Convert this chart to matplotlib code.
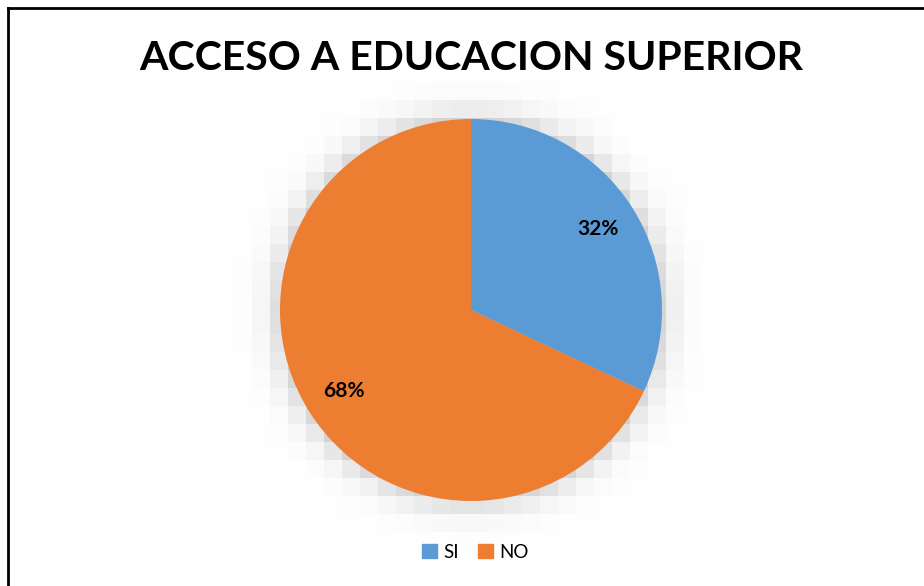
import numpy as np
import matplotlib
matplotlib.use("Agg")
import matplotlib.pyplot as plt
from matplotlib.patches import Rectangle
from matplotlib.lines import Line2D

title = "ACCESO A EDUCACION SUPERIOR"
categories = ["SI", "NO"]
values = [32, 68]
colors = ["#5B9BD5", "#ED7D31"]

W, H, DPI = 924, 586, 100
fig = plt.figure(figsize=(W / DPI, H / DPI), dpi=DPI)
fig.patch.set_facecolor("white")

cx, cy, R = 471, 310, 191  # pixel centre / radius
ax = fig.add_axes([0, 0, 1, 1])
ax.set_xlim(-cx / R, (W - cx) / R)
ax.set_ylim(-(H - cy) / R, cy / R)
ax.axis("off")

# soft pixelated shadow
blk = 18 / R
xs = np.arange(-cx / R, (W - cx) / R + blk, blk)
ys = np.arange(-(H - cy) / R, cy / R + blk, blk)
XX, YY = np.meshgrid(xs[:-1] + blk / 2, ys[:-1] + blk / 2)
d = (np.hypot(XX, YY) - 1.0) * R
f = 0.5 * (1 - np.tanh(d / 20))
g = 1 - 0.26 * f
rgb = np.dstack([g, g, g])
ax.imshow(rgb, extent=(xs[0], xs[-1], ys[0], ys[-1]), origin="lower",
          interpolation="nearest", zorder=0, aspect="auto")

wedges, texts, autotexts = ax.pie(
    values, colors=colors, startangle=90, counterclock=False, radius=1,
    autopct="%1.0f%%", pctdistance=0.79,
    textprops=dict(fontsize=15, fontweight="bold", color="black", family="Lato"),
    wedgeprops=dict(linewidth=0, antialiased=True))
for w in wedges:
    w.set_zorder(2)
for t in autotexts:
    t.set_zorder(3)
ax.set_xlim(-cx / R, (W - cx) / R)
ax.set_ylim(-(H - cy) / R, cy / R)
ax.set_aspect("auto")

fig.text(471 / W, 1 - 59 / H, title, ha="center", va="center",
         fontsize=29.5, fontweight="bold", family="Lato", color="black")

# legend
handles = [Rectangle((0, 0), 1, 1, color=c) for c in colors]
leg = fig.legend(handles, categories, loc="center", bbox_to_anchor=(475 / W, 1 - 552 / H),
                 ncol=2, frameon=False, handlelength=0.8, handleheight=0.8,
                 handletextpad=0.35, columnspacing=1.0, prop=dict(family="Lato", size=13.5))

# border (left and top)
fig.add_artist(Line2D([8 / W, 8 / W], [0, 1 - 8 / H], transform=fig.transFigure, color="black", lw=2))
fig.add_artist(Line2D([8 / W, 1], [1 - 8 / H, 1 - 8 / H], transform=fig.transFigure, color="black", lw=2))

fig.savefig("out.png", dpi=DPI)
